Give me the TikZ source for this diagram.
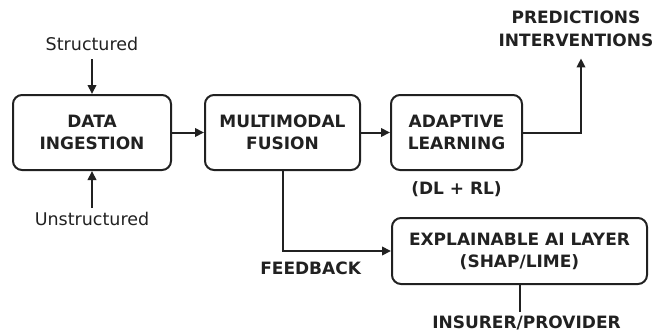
\documentclass[tikz,border=0pt]{standalone}
\usepackage{fontspec}
\setmainfont{DejaVu Sans}
\usetikzlibrary{arrows.meta,positioning}

\begin{document}
\begin{tikzpicture}[x=1pt,y=1pt,>={Triangle[length=9pt,width=8.5pt]},color=black!87,line width=2pt]
  \tikzstyle{box}=[draw,rounded corners=9pt,align=center,minimum height=75pt,font=\bfseries\fontsize{17}{22}\selectfont]
  \tikzstyle{lbl}=[align=center,inner sep=3pt,font=\fontsize{17.5}{20}\selectfont]
  \tikzstyle{blbl}=[align=center,inner sep=3pt,font=\bfseries\fontsize{17}{23}\selectfont]
  \useasboundingbox (0,0) rectangle (654,-335);
  \node[box,minimum width=158pt] (ingest) at (92,-132.5) {DATA\\INGESTION};
  \node[box,minimum width=155pt,right=32pt of ingest] (fusion) {MULTIMODAL\\FUSION};
  \node[box,minimum width=131pt,right=29pt of fusion] (adapt) {ADAPTIVE\\LEARNING};
  \node[box,minimum width=255pt,minimum height=66pt,below right=46pt and 1pt of adapt.south west] (xai) {EXPLAINABLE AI LAYER\\(SHAP/LIME)};
  \node[lbl,above=39pt of ingest] (struct) {Structured};
  \node[lbl,below=37pt of ingest] (unstruct) {Unstructured};
  \node[blbl,below=7pt of adapt] (dlrl) {(DL + RL)};
  \node[blbl] (pred) at (576,-28.5) {PREDICTIONS\\INTERVENTIONS};
  \node[blbl,below left=7pt and 26pt of xai.west] (feedback) {FEEDBACK};
  \node[blbl,below=27pt of xai,xshift=7pt] (insurer) {INSURER/PROVIDER};
  % arrows
  \draw[->,shorten <=4pt] (struct) -- (ingest);
  \draw[->] (unstruct) -- (ingest);
  \draw[->] (ingest) -- (fusion);
  \draw[->] (fusion) -- (adapt);
  \draw[->,shorten >=8pt] (adapt.east) -| ([xshift=5pt]pred.south);
  \draw[->] (fusion.south) |- (xai.west);
  \draw (xai.south) -- (xai.south |- insurer.north);
\end{tikzpicture}
\end{document}
